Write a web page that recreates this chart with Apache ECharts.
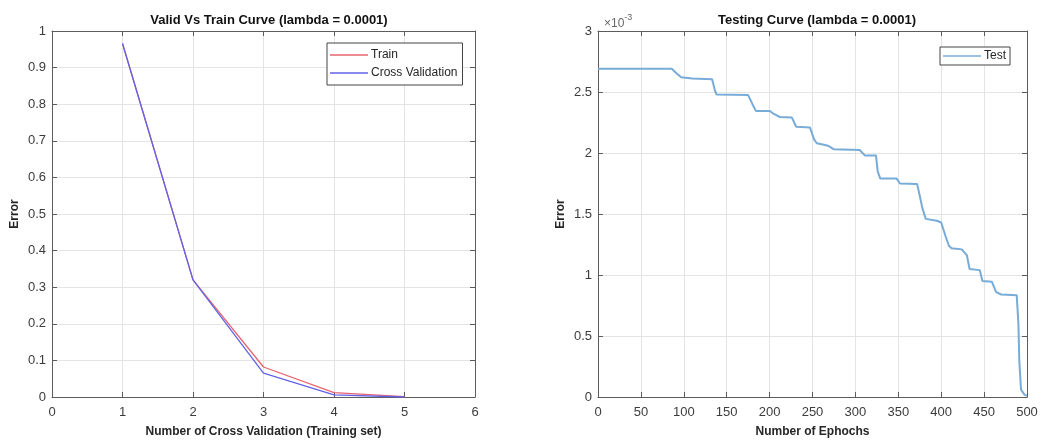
<!DOCTYPE html>
<html>
<head>
<meta charset="utf-8">
<script src="https://cdn.jsdelivr.net/npm/echarts@6/dist/echarts.min.js"></script>
<style>
  html, body { margin: 0; padding: 0; background: #fff; }
  #chart { width: 1044px; height: 444px; }
</style>
</head>
<body>
<div id="chart"></div>
<script>
// Left panel: error per cross-validation fold
const cvFolds = [1, 2, 3, 4, 5];
const trainError = [0.966, 0.32, 0.082, 0.012, 0.001];
const cvError = [0.966, 0.32, 0.065, 0.006, 0.0];

// Right panel: test error over epochs (breakpoints of the curve)
const epochs = [0, 86, 92, 97, 110, 133, 136, 138, 175, 180, 184, 200, 205, 212, 226, 231, 247, 252, 255, 262, 268, 275, 305, 311, 324, 326, 329, 348, 352, 372, 375, 378, 382, 395, 400, 405, 409, 412, 424, 430, 433, 445, 448, 459, 464, 470, 488, 490, 491, 493, 497, 500];
const testError = [2.69e-3, 2.69e-3, 2.65e-3, 2.62e-3, 2.61e-3, 2.605e-3, 2.52e-3, 2.48e-3, 2.475e-3, 2.40e-3, 2.345e-3, 2.345e-3, 2.32e-3, 2.295e-3, 2.29e-3, 2.215e-3, 2.21e-3, 2.11e-3, 2.08e-3, 2.07e-3, 2.06e-3, 2.03e-3, 2.025e-3, 1.98e-3, 1.98e-3, 1.85e-3, 1.79e-3, 1.79e-3, 1.75e-3, 1.745e-3, 1.65e-3, 1.55e-3, 1.46e-3, 1.445e-3, 1.43e-3, 1.32e-3, 1.24e-3, 1.22e-3, 1.21e-3, 1.16e-3, 1.05e-3, 1.04e-3, 0.95e-3, 0.945e-3, 0.86e-3, 0.84e-3, 0.835e-3, 0.6e-3, 0.3e-3, 0.06e-3, 0.02e-3, 0.01e-3];

const FONT = '"Liberation Sans", Arial, Helvetica, sans-serif';
const AXIS_COLOR = '#5c5c5c';
const LABEL_COLOR = '#3c3c3c';
const GRID_COLOR = '#e4e4e4';
// thin horizontal bar used as the legend line sample
const LINE_ICON = 'path://M0,0H40V1.6H0Z';

function mainX(gridIndex, min, max, interval, name) {
  return {
    type: 'value', gridIndex, min, max, interval, position: 'bottom',
    name, nameLocation: 'middle', nameGap: 29,
    nameTextStyle: { fontFamily: FONT, fontSize: 12, fontWeight: 'bold', color: '#262626' },
    axisLine: { show: true, onZero: false, lineStyle: { color: AXIS_COLOR, width: 1 } },
    axisTick: { show: true, inside: true, length: 5, lineStyle: { color: AXIS_COLOR } },
    axisLabel: { margin: 9, fontFamily: FONT, fontSize: 13, color: LABEL_COLOR },
    splitLine: { show: true, lineStyle: { color: GRID_COLOR, width: 1 } }
  };
}
function boxX(gridIndex, min, max, interval) {
  return {
    type: 'value', gridIndex, min, max, interval, position: 'top',
    axisLine: { show: true, onZero: false, lineStyle: { color: AXIS_COLOR, width: 1 } },
    axisTick: { show: true, inside: true, length: 5, lineStyle: { color: AXIS_COLOR } },
    axisLabel: { show: false }, splitLine: { show: false }
  };
}
function mainY(gridIndex, min, max, interval, formatter) {
  return {
    type: 'value', gridIndex, min, max, interval, position: 'left',
    name: 'Error', nameLocation: 'middle', nameGap: 31, nameRotate: 90,
    nameTextStyle: { fontFamily: FONT, fontSize: 12, fontWeight: 'bold', color: '#262626' },
    axisLine: { show: true, onZero: false, lineStyle: { color: AXIS_COLOR, width: 1 } },
    axisTick: { show: true, inside: true, length: 5, lineStyle: { color: AXIS_COLOR } },
    axisLabel: { margin: 6, fontFamily: FONT, fontSize: 13, color: LABEL_COLOR, formatter },
    splitLine: { show: true, lineStyle: { color: GRID_COLOR, width: 1 } }
  };
}
function boxY(gridIndex, min, max, interval) {
  return {
    type: 'value', gridIndex, min, max, interval, position: 'right',
    axisLine: { show: true, onZero: false, lineStyle: { color: AXIS_COLOR, width: 1 } },
    axisTick: { show: true, inside: true, length: 5, lineStyle: { color: AXIS_COLOR } },
    axisLabel: { show: false }, splitLine: { show: false }
  };
}

const chart = echarts.init(document.getElementById('chart'), null, { renderer: 'canvas' });
chart.setOption({
  animation: false,
  backgroundColor: '#ffffff',
  title: [
    { text: 'Valid Vs Train Curve (lambda = 0.0001)', left: 264, top: 9, textAlign: 'center',
      textStyle: { fontFamily: FONT, fontSize: 13, fontWeight: 'bold', color: '#111' } },
    { text: 'Testing Curve (lambda = 0.0001)', left: 812, top: 9, textAlign: 'center',
      textStyle: { fontFamily: FONT, fontSize: 13, fontWeight: 'bold', color: '#111' } },
    { text: '{a|×10}{b|-3}', left: 599, top: 6,
      textStyle: { fontWeight: 'normal', rich: {
        a: { fontFamily: FONT, fontSize: 12, fontWeight: 'normal', color: '#666', padding: [7, 0, 0, 0] },
        b: { fontFamily: FONT, fontSize: 9, fontWeight: 'normal', color: '#666', padding: [0, 0, 5, 0] }
      } } }
  ],
  legend: [
    { data: ['Train', 'Cross Validation'], orient: 'vertical', left: 327, top: 43,
      icon: LINE_ICON, itemWidth: 38, itemHeight: 1.6, itemGap: 6, padding: [6, 5, 6, 3],
      borderColor: '#444', borderWidth: 1, backgroundColor: '#fff',
      textStyle: { fontFamily: FONT, fontSize: 12, color: '#262626', padding: [0, 0, 0, -2] } },
    { data: ['Test'], orient: 'vertical', left: 940, top: 47,
      icon: LINE_ICON, itemWidth: 38, itemHeight: 1.6, padding: [3, 4, 3, 3],
      borderColor: '#444', borderWidth: 1, backgroundColor: '#fff',
      textStyle: { fontFamily: FONT, fontSize: 12, color: '#262626', padding: [0, 0, 0, -2] } }
  ],
  grid: [
    { left: 52, top: 31, width: 423, height: 366, show: false },
    { left: 598, top: 31, width: 429, height: 366, show: false }
  ],
  xAxis: [
    mainX(0, 0, 6, 1, 'Number of Cross Validation (Training set)'),
    boxX(0, 0, 6, 1),
    mainX(1, 0, 500, 50, 'Number of Ephochs'),
    boxX(1, 0, 500, 50)
  ],
  yAxis: [
    mainY(0, 0, 1, 0.1, v => String(+v.toFixed(1))),
    boxY(0, 0, 1, 0.1),
    mainY(1, 0, 0.003, 0.0005, v => String(+(v * 1000).toFixed(1))),
    boxY(1, 0, 0.003, 0.0005)
  ],
  series: [
    { name: 'Train', type: 'line', xAxisIndex: 0, yAxisIndex: 0, symbol: 'none',
      data: cvFolds.map((x, i) => [x, trainError[i]]),
      lineStyle: { color: '#e8646e', width: 1.3 }, itemStyle: { color: '#e8646e' } },
    { name: 'Cross Validation', type: 'line', xAxisIndex: 0, yAxisIndex: 0, symbol: 'none',
      data: cvFolds.map((x, i) => [x, cvError[i]]),
      lineStyle: { color: '#6262e8', width: 1.3 }, itemStyle: { color: '#6262e8' } },
    { name: 'Test', type: 'line', xAxisIndex: 2, yAxisIndex: 2, symbol: 'none',
      data: epochs.map((x, i) => [x, testError[i]]),
      lineStyle: { color: '#78acd8', width: 2 }, itemStyle: { color: '#78acd8' } }
  ]
});
</script>
</body>
</html>
